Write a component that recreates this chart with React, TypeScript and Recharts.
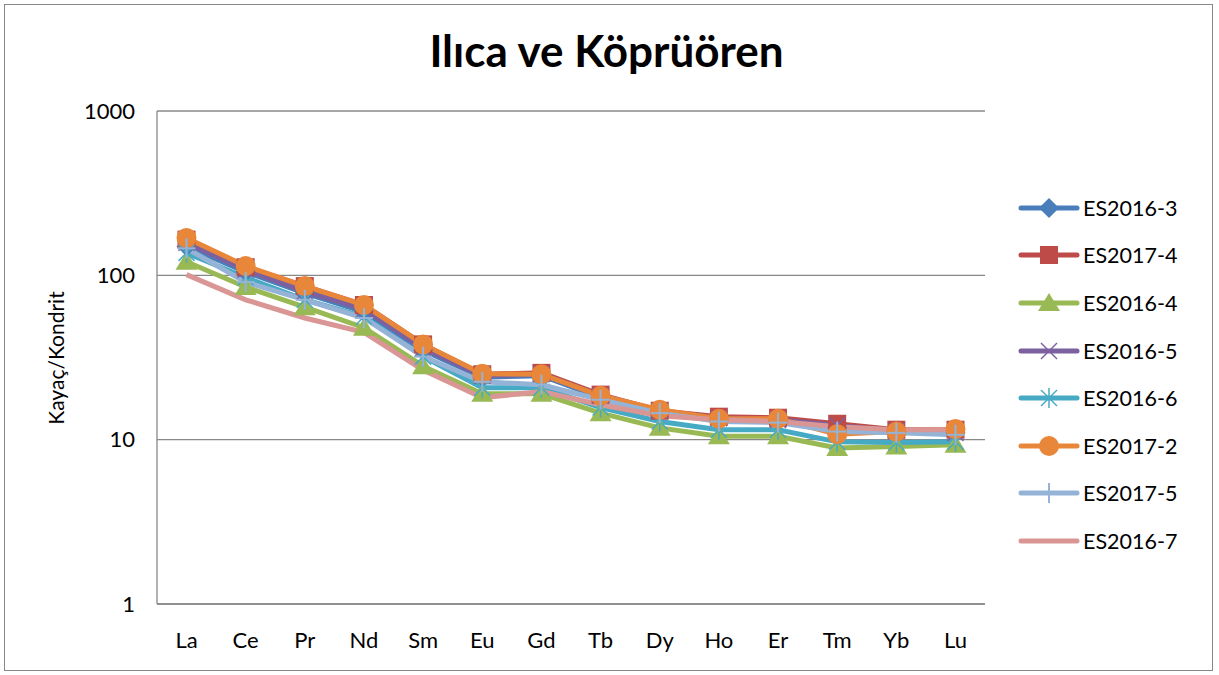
import React from 'react'
import { LineChart, Line, XAxis, YAxis, CartesianGrid } from 'recharts'

const elements = ['La', 'Ce', 'Pr', 'Nd', 'Sm', 'Eu', 'Gd', 'Tb', 'Dy', 'Ho', 'Er', 'Tm', 'Yb', 'Lu']

const es2016_3 = [150, 105, 78, 60, 35, 24, 24.5, 18, 14.8, 13.2, 13, 11.8, 11.2, 11]
const es2017_4 = [165, 112, 86, 66, 38, 25, 25.5, 18.8, 15, 13.8, 13.6, 12.5, 11.5, 11.5]
const es2016_4 = [121, 85, 64, 48, 28, 19, 19, 14.5, 11.8, 10.5, 10.5, 8.9, 9.1, 9.3]
const es2016_5 = [158, 108, 80, 62, 36, 24.5, 25, 18.5, 15, 13.5, 13.2, 12.2, 11.3, 11]
const es2016_6 = [137, 97, 71, 56, 32, 20.7, 20.7, 15.7, 12.9, 11.5, 11.5, 9.7, 9.6, 9.7]
const es2017_2 = [169, 114, 86, 66, 38, 25.2, 25, 18.5, 15.2, 13.4, 13.4, 10.8, 11.2, 11.6]
const es2017_5 = [146, 91, 71, 55, 32, 22.5, 21.6, 17.5, 14.5, 12.9, 12.7, 11.2, 11, 10.7]
const es2016_7 = [101, 71, 55, 45, 26.5, 18, 19.6, 16.3, 14, 13.2, 12.9, 12, 11.5, 11.5]

const yTicks = [1, 10, 100, 1000]

const series = [
  { key: 'ES2016-3', values: es2016_3, color: '#4A7EBB', shape: 'diamond' },
  { key: 'ES2017-4', values: es2017_4, color: '#BE4B48', shape: 'square' },
  { key: 'ES2016-4', values: es2016_4, color: '#98B954', shape: 'triangle' },
  { key: 'ES2016-5', values: es2016_5, color: '#7D60A0', shape: 'x' },
  { key: 'ES2016-6', values: es2016_6, color: '#46AAC5', shape: 'star' },
  { key: 'ES2017-2', values: es2017_2, color: '#E8873A', shape: 'circle' },
  { key: 'ES2017-5', values: es2017_5, color: '#95B3D7', shape: 'plus' },
  { key: 'ES2016-7', values: es2016_7, color: '#D99694', shape: 'none' },
]

const data = elements.map((el, i) => {
  const row: Record<string, string | number> = { name: el }
  series.forEach((s) => {
    row[s.key] = s.values[i]
  })
  return row
})

const FONT = 'Lato, "Open Sans", sans-serif'

function Marker({ shape, color, cx, cy }: { shape: string; color: string; cx: number; cy: number }) {
  switch (shape) {
    case 'diamond':
      return <polygon points={`${cx},${cy - 10} ${cx + 10},${cy} ${cx},${cy + 10} ${cx - 10},${cy}`} fill={color} />
    case 'square':
      return <rect x={cx - 9} y={cy - 9} width={18} height={18} fill={color} />
    case 'triangle':
      return <polygon points={`${cx},${cy - 10} ${cx + 11},${cy + 8} ${cx - 11},${cy + 8}`} fill={color} />
    case 'x':
      return (
        <g stroke={color} strokeWidth={1.5}>
          <line x1={cx - 8} y1={cy - 8} x2={cx + 8} y2={cy + 8} />
          <line x1={cx - 8} y1={cy + 8} x2={cx + 8} y2={cy - 8} />
        </g>
      )
    case 'star':
      return (
        <g stroke={color} strokeWidth={1.5}>
          <line x1={cx - 8} y1={cy - 8} x2={cx + 8} y2={cy + 8} />
          <line x1={cx - 8} y1={cy + 8} x2={cx + 8} y2={cy - 8} />
          <line x1={cx} y1={cy - 10} x2={cx} y2={cy + 10} />
        </g>
      )
    case 'circle':
      return <circle cx={cx} cy={cy} r={10} fill={color} />
    case 'plus':
      return (
        <g stroke={color} strokeWidth={2}>
          <line x1={cx} y1={cy - 10} x2={cx} y2={cy + 10} />
          <line x1={cx - 9} y1={cy} x2={cx + 9} y2={cy} />
        </g>
      )
    default:
      return null
  }
}

const makeDot = (shape: string, color: string) => (props: any) => {
  const { cx, cy, index } = props
  if (shape === 'none' || cx == null || cy == null) return <g key={index} />
  return (
    <g key={index}>
      <Marker shape={shape} color={color} cx={cx} cy={cy} />
    </g>
  )
}

function LegendBox() {
  return (
    <div style={{ position: 'absolute', left: 1018, top: 184, fontFamily: FONT, fontSize: 21.5, color: '#000' }}>
      {series.map((s) => (
        <div key={s.key} style={{ display: 'flex', alignItems: 'center', height: 47.6 }}>
          <svg width={62} height={24} style={{ marginRight: 3 }}>
            <line x1={3} y1={12} x2={59} y2={12} stroke={s.color} strokeWidth={5} strokeLinecap="round" />
            <Marker shape={s.shape} color={s.color} cx={31} cy={12} />
          </svg>
          <span>{s.key}</span>
        </div>
      ))}
    </div>
  )
}

export default function App() {
  return (
    <div style={{ position: 'absolute', left: 0, top: 0, width: 1219, height: 675, background: '#fff' }}>
      <div
        style={{
          position: 'absolute',
          left: 4,
          top: 4,
          width: 1207,
          height: 665,
          border: '1px solid #888',
        }}
      />
      <div
        style={{
          position: 'absolute',
          left: 0,
          top: 24,
          width: 1213,
          textAlign: 'center',
          fontFamily: FONT,
          fontWeight: 700,
          fontSize: 44,
        }}
      >
        Ilıca ve Köprüören
      </div>
      <div
        style={{
          position: 'absolute',
          left: 55,
          top: 358,
          transform: 'translate(-50%, -50%) rotate(-90deg)',
          fontFamily: FONT,
          fontSize: 21,
          whiteSpace: 'nowrap',
        }}
      >
        Kayaç/Kondrit
      </div>
      <div style={{ position: 'absolute', left: 0, top: 0 }}>
        <LineChart width={1219} height={675} data={data} margin={{ top: 111, right: 234, bottom: 41, left: 97 }}>
          <CartesianGrid vertical={false} stroke="#888" strokeWidth={1.3} />
          <XAxis
            dataKey="name"
            height={30}
            padding={{ left: 29.5, right: 29.5 }}
            tickLine={false}
            axisLine={{ stroke: '#888', strokeWidth: 1.3 }}
            tick={{ fontFamily: FONT, fontSize: 22, fill: '#000' }}
            tickMargin={22}
            interval={0}
          />
          <YAxis
            scale="log"
            domain={[1, 1000]}
            ticks={yTicks}
            width={60}
            tickLine={false}
            tickSize={0}
            tickMargin={22}
            allowDataOverflow
            axisLine={{ stroke: '#888', strokeWidth: 1.3 }}
            tick={{ fontFamily: FONT, fontSize: 22, fill: '#000' }}
          />
          {series.map((s) => (
            <Line
              key={s.key}
              type="linear"
              dataKey={s.key}
              stroke={s.color}
              strokeWidth={5}
              dot={makeDot(s.shape, s.color)}
              activeDot={false}
              isAnimationActive={false}
            />
          ))}
        </LineChart>
      </div>
      <LegendBox />
    </div>
  )
}
